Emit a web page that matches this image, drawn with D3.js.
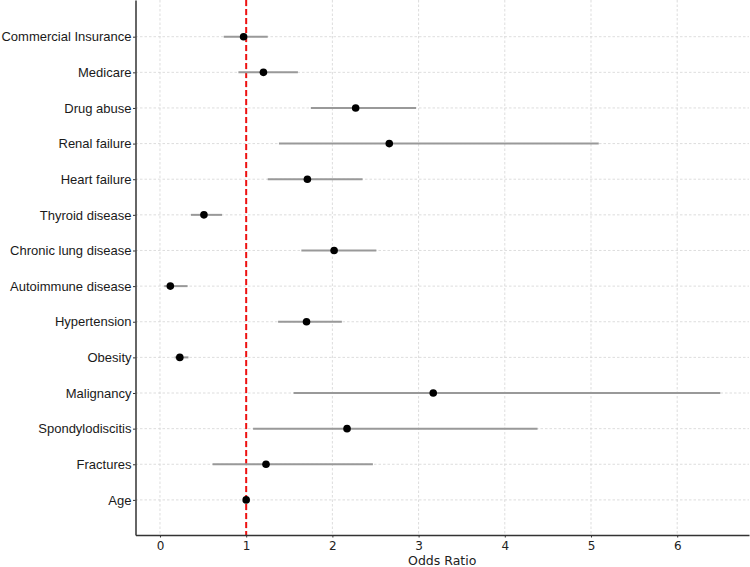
<!DOCTYPE html>
<html>
<head>
<meta charset="utf-8">
<script src="https://cdn.jsdelivr.net/npm/d3@7"></script>
<style>
  body { margin: 0; background: #fff; }
  svg { display: block; }
</style>
</head>
<body>
<svg id="forest_svg" width="750" height="567"></svg>
<script>
// data, bottom row first (Age) up to the top row
var factors = ["Age", "Fractures", "Spondylodiscitis", "Malignancy", "Obesity", "Hypertension",
  "Autoimmune disease", "Chronic lung disease", "Thyroid disease", "Heart failure",
  "Renal failure", "Drug abuse", "Medicare", "Commercial Insurance"]
var oddsRatio = [1.00, 1.23, 2.17, 3.17, 0.23, 1.70, 0.12, 2.02, 0.51, 1.71, 2.66, 2.27, 1.20, 0.97]
var ciLow     = [0.99, 0.61, 1.08, 1.55, 0.17, 1.37, 0.05, 1.64, 0.36, 1.25, 1.38, 1.75, 0.91, 0.74]
var ciHigh    = [1.01, 2.47, 4.38, 6.50, 0.33, 2.11, 0.32, 2.51, 0.72, 2.35, 5.09, 2.97, 1.60, 1.25]
var xTicks = [0, 1, 2, 3, 4, 5, 6]
var refLine = 1

//margins so that the plot spans the picture like the reference
const margin = {top: 0, right: 1, bottom: 32, left: 135.5}
const width = 750, height = 567
const innerWidth = width - margin.left - margin.right
const innerHeight = height - margin.top - margin.bottom

const rows = factors.map((f, i) => ({name: f, or: oddsRatio[i], lo: ciLow[i], hi: ciHigh[i], idx: i}))

const svg = d3.select('#forest_svg').append('g')
  .attr('transform', `translate(${margin.left}, ${margin.top})`)

const x = d3.scaleLinear().domain([-0.284, 6.833]).range([0, innerWidth])
const y = d3.scaleLinear().domain([-0.985, 14.03]).range([innerHeight, 0])

//grid lines
svg.append('g').selectAll('line.vgrid')
  .data(xTicks)
  .join('line')
  .attr('x1', d => x(d)).attr('x2', d => x(d))
  .attr('y1', 0).attr('y2', innerHeight)
  .attr('stroke', '#d4d4d4').attr('stroke-width', 0.8)
  .attr('stroke-dasharray', '2.5,2')

svg.append('g').selectAll('line.hgrid')
  .data(rows)
  .join('line')
  .attr('x1', 0).attr('x2', innerWidth)
  .attr('y1', d => y(d.idx)).attr('y2', d => y(d.idx))
  .attr('stroke', '#d4d4d4').attr('stroke-width', 0.8)
  .attr('stroke-dasharray', '2.5,2')

//reference line at OR = 1
svg.append('line')
  .attr('x1', x(refLine)).attr('x2', x(refLine))
  .attr('y1', 0).attr('y2', innerHeight)
  .attr('stroke', '#ee1111').attr('stroke-width', 2)
  .attr('stroke-dasharray', '6,3')

//confidence intervals
svg.append('g').selectAll('line')
  .data(rows)
  .join('line')
  .attr('x1', d => x(d.lo)).attr('x2', d => x(d.hi))
  .attr('y1', d => y(d.idx)).attr('y2', d => y(d.idx))
  .attr('stroke', '#999').attr('stroke-width', 2)

//odds ratio points
svg.append('g').selectAll('circle')
  .data(rows)
  .join('circle')
  .attr('cx', d => x(d.or))
  .attr('cy', d => y(d.idx))
  .attr('r', 3.8)
  .attr('fill', 'black')

//x axis
const xAxis = svg.append('g')
  .attr('transform', `translate(0, ${innerHeight})`)
  .call(d3.axisBottom(x).tickValues(xTicks).tickFormat(d3.format('d'))
    .tickSizeInner(2.5).tickSizeOuter(0).tickPadding(3.5))
xAxis.select('.domain').attr('stroke', '#333').attr('stroke-width', 1.5)
xAxis.selectAll('.tick line').attr('stroke', '#333')
xAxis.selectAll('text').attr('font-family', 'DejaVu Sans').attr('font-size', 12).attr('fill', '#222')

//y axis
const yAxis = svg.append('g')
  .call(d3.axisLeft(y).tickValues(rows.map(d => d.idx)).tickFormat(i => factors[i])
    .tickSizeInner(2.5).tickSizeOuter(0).tickPadding(1.5))
yAxis.select('.domain').attr('stroke', '#333').attr('stroke-width', 1.5)
yAxis.selectAll('.tick line').attr('stroke', '#333')
yAxis.selectAll('text').attr('font-family', 'Liberation Sans').attr('font-size', 13).attr('fill', '#1a1a1a')

//axis title, centred under the axes
svg.append('text')
  .attr('x', innerWidth / 2)
  .attr('y', innerHeight + 29.5)
  .attr('text-anchor', 'middle')
  .attr('font-family', 'DejaVu Sans')
  .attr('font-size', 12.5)
  .attr('fill', '#222')
  .text('Odds Ratio')
</script>
</body>
</html>
